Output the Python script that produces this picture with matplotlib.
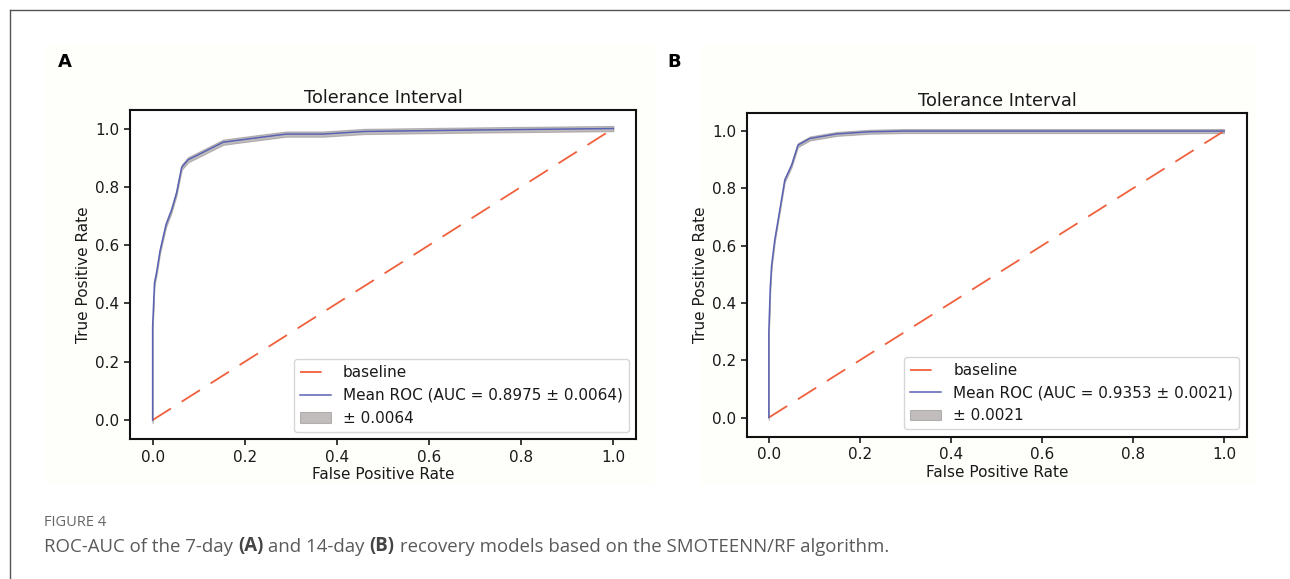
"""ROC-AUC tolerance interval panels for the 7-day and 14-day recovery models."""

import matplotlib

matplotlib.use("Agg")
import matplotlib.pyplot as plt
import numpy as np
from matplotlib.lines import Line2D
from matplotlib.patches import Rectangle

FIG_W, FIG_H = 1290, 579
FIG_DPI = 100

# 7-day model (panel A)
fpr_7day = [0.0, 0.0, 0.004, 0.009, 0.016, 0.029, 0.041, 0.052, 0.063, 0.077,
            0.095, 0.153, 0.21, 0.29, 0.37, 0.46, 0.7, 1.0]
tpr_7day = [0.0, 0.32, 0.47, 0.51, 0.58, 0.67, 0.72, 0.78, 0.867, 0.893,
            0.907, 0.953, 0.965, 0.981, 0.981, 0.99, 0.995, 1.0]
auc_7day = 0.8975
auc_std_7day = 0.0064
band_7day = 0.009

# 14-day model (panel B)
fpr_14day = [0.0, 0.0, 0.003, 0.006, 0.013, 0.024, 0.035, 0.05, 0.064, 0.09,
             0.149, 0.222, 0.3, 0.5, 1.0]
tpr_14day = [0.0, 0.30, 0.45, 0.53, 0.62, 0.724, 0.829, 0.881, 0.951, 0.974,
             0.99, 0.9975, 1.0, 1.0, 1.0]
auc_14day = 0.9353
auc_std_14day = 0.0021
band_14day = 0.007

panel_labels = ["A", "B"]
title_text = "Tolerance Interval"
caption_head = "FIGURE 4"
caption_parts = [
    ("ROC-AUC of the 7-day ", "normal"),
    ("(A)", "bold"),
    (" and 14-day ", "normal"),
    ("(B)", "bold"),
    (" recovery models based on the SMOTEENN/RF algorithm.", "normal"),
]

BASE_COLOR = "#f0603c"
ROC_COLOR = "#5a62b4"
BAND_COLOR = "#8f8888"
PANEL_BG = "#fefefb"
TEXT_COLOR = "#1a1a1a"


def _fx(px):
    return px / FIG_W


def _fy(py):
    return 1 - py / FIG_H


def draw_panel(fig, rect, fpr, tpr, band, auc, auc_std, xlim, ylim):
    """Draw one ROC panel with its baseline and tolerance band."""
    fpr = np.asarray(fpr, dtype=float)
    tpr = np.asarray(tpr, dtype=float)
    ax = fig.add_axes(rect)
    ax.set_facecolor("white")
    ax.plot([0, 1], [0, 1], color=BASE_COLOR, lw=1.3, dashes=(12, 7), label="baseline")
    ax.plot(fpr, tpr, color=ROC_COLOR, lw=1.1,
            label=f"Mean ROC (AUC = {auc:.4f} ± {auc_std:.4f})")
    ax.fill_between(fpr, tpr - band, tpr + band, color=BAND_COLOR, alpha=0.55,
                    lw=0.8, label=f"± {auc_std:.4f}")
    ax.set_xlim(*xlim)
    ax.set_ylim(*ylim)
    ax.set_xticks([0.0, 0.2, 0.4, 0.6, 0.8, 1.0])
    ax.set_yticks([0.0, 0.2, 0.4, 0.6, 0.8, 1.0])
    ax.tick_params(labelsize=11, length=4, width=1.2, color=TEXT_COLOR, labelcolor=TEXT_COLOR)
    for spine in ax.spines.values():
        spine.set_linewidth(1.5)
        spine.set_color("#111111")
    ax.set_xlabel("False Positive Rate", fontsize=11, color=TEXT_COLOR, labelpad=2)
    ax.set_ylabel("True Positive Rate", fontsize=11, color=TEXT_COLOR, labelpad=3)
    ax.set_title(title_text, fontsize=12.8, color=TEXT_COLOR, pad=5)
    leg = ax.legend(loc="lower right", fontsize=11, framealpha=0.8, edgecolor="0.8",
                    handlelength=2.0)
    for txt in leg.get_texts():
        txt.set_color(TEXT_COLOR)
    return ax


def main():
    fig = plt.figure(figsize=(FIG_W / FIG_DPI, FIG_H / FIG_DPI), dpi=FIG_DPI)
    fig.patch.set_facecolor("white")

    # outer frame (top and left edges only)
    fig.add_artist(Line2D([_fx(10), 1.0], [_fy(10), _fy(10)], color="#555555", lw=1.0))
    fig.add_artist(Line2D([_fx(10), _fx(10)], [_fy(10), 0.0], color="#555555", lw=1.0))

    # faint background of the pasted panel images
    for x0, x1 in [(45, 655), (700, 1257)]:
        fig.add_artist(Rectangle((_fx(x0), _fy(485)), _fx(x1 - x0), (485 - 45) / FIG_H,
                                 transform=fig.transFigure, facecolor=PANEL_BG,
                                 edgecolor="none", zorder=-1))

    draw_panel(fig, [_fx(129.6), _fy(439.3), _fx(636.4 - 129.6), (439.3 - 109.6) / FIG_H],
               fpr_7day, tpr_7day, band_7day, auc_7day, auc_std_7day,
               (-0.05, 1.05), (-0.066, 1.065))
    draw_panel(fig, [_fx(747), _fy(437), _fx(1247 - 747), (437 - 113) / FIG_H],
               fpr_14day, tpr_14day, band_14day, auc_14day, auc_std_14day,
               (-0.048, 1.0505), (-0.068, 1.063))

    fig.text(_fx(58), _fy(62), panel_labels[0], fontsize=13, weight="bold",
             family="DejaVu Sans", va="center", ha="left")
    fig.text(_fx(667), _fy(62), panel_labels[1], fontsize=13, weight="bold",
             family="DejaVu Sans", va="center", ha="left")

    # caption: chain text pieces so bold parts sit inline
    fig.text(_fx(44), _fy(522), caption_head, fontsize=10.5, color="#666666",
             family="Open Sans", va="center", ha="left")
    prev = fig.text(_fx(44), _fy(552), caption_parts[0][0], fontsize=13.4,
                    color="#5a5a5a", family="Open Sans", va="baseline", ha="left")
    for text, weight in caption_parts[1:]:
        prev = fig.add_artist(plt.Annotation(
            text, xy=(1, 0), xycoords=prev, va="bottom", ha="left",
            fontsize=13.4, family="Open Sans", weight=weight,
            color="#444444" if weight == "bold" else "#5a5a5a"))

    fig.savefig("out.png", dpi=FIG_DPI)
    plt.close(fig)


if __name__ == "__main__":
    main()
